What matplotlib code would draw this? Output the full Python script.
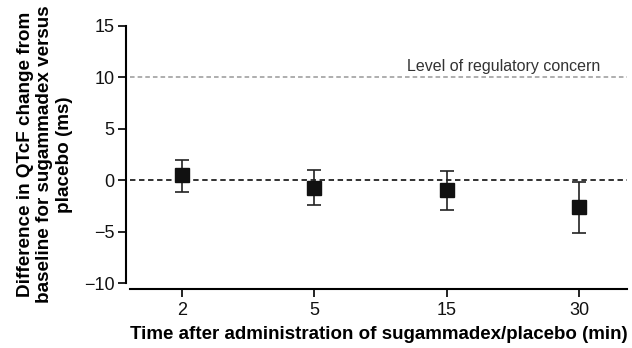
import numpy as np
import matplotlib.pyplot as plt

plt.rcParams['font.family'] = ['Liberation Sans', 'DejaVu Sans']

# Data
times = ['2', '5', '15', '30']
diff_mean = [0.55, -0.8, -1.0, -2.65]
ci_upper = [2.0, 0.95, 0.9, -0.15]
ci_lower = [-1.1, -2.4, -2.9, -5.15]
concern_level = 10

x = np.arange(len(times))
yerr = [np.array(diff_mean) - np.array(ci_lower), np.array(ci_upper) - np.array(diff_mean)]

fig = plt.figure(figsize=(6.32, 3.48), dpi=100)
ax = fig.add_axes([130 / 632, 1 - 283 / 348, 497 / 632, 257 / 348])

ax.axhline(concern_level, color='#999999', linestyle=(0, (3, 2)), linewidth=1.1)
ax.axhline(0, color='#222222', linestyle=(0, (3, 2)), linewidth=1.3)
ax.text(3.16, concern_level + 0.6, 'Level of regulatory concern', ha='right', va='baseline',
        fontsize=11.5, color='#333333')

ax.errorbar(x, diff_mean, yerr=yerr, fmt='s', color='#111111', markersize=9.5,
            ecolor='#222222', elinewidth=1.2, capsize=5, capthick=1.2)

ax.set_xlim(-0.393, 3.363)
ax.set_ylim(-10, 15)
ax.set_yticks([-10, -5, 0, 5, 10, 15])
ax.set_yticklabels(['\u221210', '\u22125', '0', '5', '10', '15'])
ax.set_xticks(x)
ax.set_xticklabels(times)

for s in ['top', 'right']:
    ax.spines[s].set_visible(False)
ax.spines['bottom'].set_position(('outward', 4.5))
ax.spines['left'].set_position(('outward', 3))
ax.spines['left'].set_linewidth(1.5)
ax.spines['bottom'].set_linewidth(1.5)
ax.tick_params(axis='both', width=1.3, length=6, labelsize=13, colors='#111111')
ax.tick_params(axis='y', pad=2)

ax.set_xlabel('Time after administration of sugammadex/placebo (min)', fontsize=13.5,
              fontweight='bold', labelpad=5)
ax.set_ylabel('Difference in QTcF change from\nbaseline for sugammadex versus\nplacebo (ms)',
              fontsize=13.6, fontweight='bold', labelpad=8, linespacing=1.2)

fig.savefig('out.png', dpi=100)
